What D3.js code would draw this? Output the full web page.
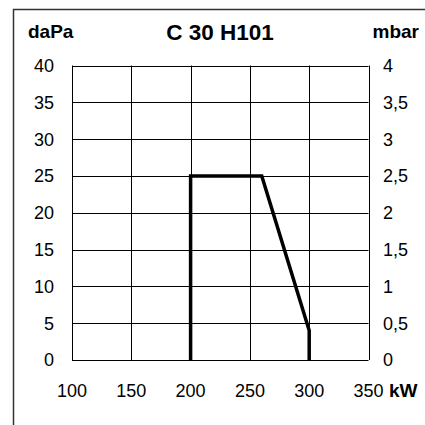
<!DOCTYPE html>
<html><head><meta charset="utf-8">
<script src="https://cdn.jsdelivr.net/npm/d3@7"></script>
<style>html,body{margin:0;padding:0;background:#fff;}svg{display:block;}</style>
</head><body>
<script>
const title = "C 30 H101";
const leftUnit = "daPa";
const rightUnit = "mbar";
const xUnit = "kW";
const xTicks = [100, 150, 200, 250, 300, 350];
const yTicks = [0, 5, 10, 15, 20, 25, 30, 35, 40];
const rightTickLabels = ["0", "0,5", "1", "1,5", "2", "2,5", "3", "3,5", "4"];
const curveX = [200, 200, 260, 300, 300];
const curveY = [0, 25, 25, 4, 0];

const W = 425, H = 425;
const svg = d3.select("body").append("svg").attr("width", W).attr("height", H);
const font = "'Liberation Sans', Arial, Helvetica, sans-serif";

const x = d3.scaleLinear().domain([100, 350]).range([72, 368.5]);
const y = d3.scaleLinear().domain([0, 40]).range([360, 65.5]);

// outer frame (left + top)
svg.append("path").attr("d", `M13.5,425 L13.5,9.5 L425,9.5`)
  .attr("fill", "none").attr("stroke", "#333").attr("stroke-width", 1.5);

// grid
const g = svg.append("g");
g.selectAll("line.v").data(xTicks).join("line")
  .attr("x1", d => Math.round(x(d)) + 0.5).attr("x2", d => Math.round(x(d)) + 0.5)
  .attr("y1", y(0)).attr("y2", y(40))
  .attr("stroke", "#000").attr("stroke-width", 1);
g.selectAll("line.h").data(yTicks).join("line")
  .attr("y1", d => Math.round(y(d)) + 0.5).attr("y2", d => Math.round(y(d)) + 0.5)
  .attr("x1", x(100)).attr("x2", x(350))
  .attr("stroke", "#000").attr("stroke-width", 1);

// curve
const line = d3.line().x(d => x(d[0])).y(d => y(d[1]));
svg.append("path").datum(curveX.map((v, i) => [v, curveY[i]]))
  .attr("d", line).attr("fill", "none").attr("stroke", "#000")
  .attr("stroke-width", 3.5).attr("stroke-linejoin", "miter");

// left labels
svg.selectAll("text.yl").data(yTicks).join("text")
  .attr("x", 54).attr("y", d => y(d)).attr("dy", "0.36em")
  .attr("text-anchor", "end").attr("font-family", font).attr("font-size", 18)
  .text(d => d);
// right labels
svg.selectAll("text.yr").data(yTicks).join("text")
  .attr("x", 383).attr("y", d => y(d)).attr("dy", "0.36em")
  .attr("text-anchor", "start").attr("font-family", font).attr("font-size", 18)
  .text((d, i) => rightTickLabels[i]);
// bottom labels
svg.selectAll("text.xl").data(xTicks).join("text")
  .attr("x", d => x(d)).attr("y", 397)
  .attr("text-anchor", "middle").attr("font-family", font).attr("font-size", 18)
  .text(d => d);

svg.append("text").attr("x", 389).attr("y", 397).attr("font-family", font)
  .attr("font-size", 19).attr("font-weight", "bold").text(xUnit);
svg.append("text").attr("x", 28).attr("y", 38).attr("font-family", font)
  .attr("font-size", 19).attr("font-weight", "bold").text(leftUnit);
svg.append("text").attr("x", 419).attr("y", 38).attr("text-anchor", "end").attr("font-family", font)
  .attr("font-size", 19).attr("font-weight", "bold").text(rightUnit);
svg.append("text").attr("x", 220).attr("y", 40).attr("text-anchor", "middle").attr("font-family", font)
  .attr("font-size", 22.5).attr("font-weight", "bold").text(title);
</script>
</body></html>
